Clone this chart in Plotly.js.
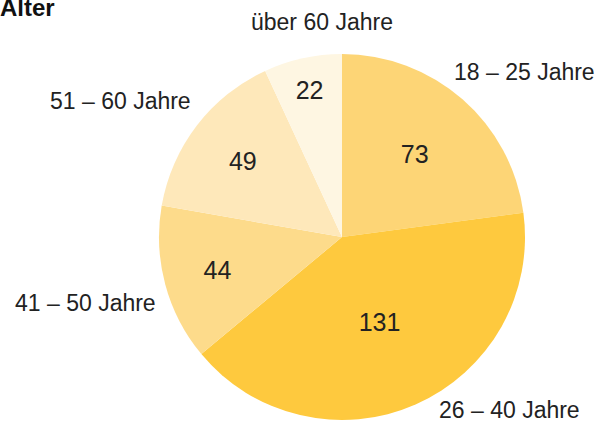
<!DOCTYPE html>
<html>
<head>
<meta charset="utf-8">
<script src="https://cdn.plot.ly/plotly-3.0.1.min.js"></script>
<style>html,body{margin:0;padding:0;background:#fff;}#chart{width:602px;height:423px;}</style>
</head>
<body>
<div id="chart"></div>
<script>
// Data
var categories = ["18 – 25 Jahre", "26 – 40 Jahre", "41 – 50 Jahre", "51 – 60 Jahre", "über 60 Jahre"];
var counts = [73, 131, 44, 49, 22];
var sliceColors = ["#FDD576", "#FEC93E", "#FDDB8B", "#FEE8BA", "#FEF6E2"];
var chartTitle = "Alter";

// Layout positions for the outside category labels (pixels in the 602x423 canvas)
var W = 602, H = 423;
var labelPos = [
  {x: 452, y: 72, anchor: "left"},
  {x: 437, y: 410, anchor: "left"},
  {x: 158, y: 303, anchor: "right"},
  {x: 193, y: 101, anchor: "right"},
  {x: 322, y: 22, anchor: "center"}
];

var FONT = "Liberation Sans, Arial, sans-serif";

var trace = {
  type: "pie",
  labels: categories,
  values: counts,
  sort: false,
  direction: "clockwise",
  rotation: 0,
  marker: {colors: sliceColors, line: {width: 0}},
  textinfo: "value",
  textposition: "inside",
  insidetextorientation: "horizontal",
  insidetextfont: {family: FONT, size: 25, color: "#222222"},
  hoverinfo: "label+value",
  showlegend: false,
  domain: {x: [159 / W, 525 / W], y: [3 / H, 369 / H]}
};

var annotations = categories.map(function (c, i) {
  var p = labelPos[i];
  return {
    text: c,
    xref: "paper", yref: "paper",
    x: p.x / W, y: 1 - p.y / H,
    xanchor: p.anchor, yanchor: "middle",
    showarrow: false,
    font: {family: FONT, size: 23, color: "#222222"}
  };
});

var layout = {
  width: W, height: H,
  margin: {l: 0, r: 0, t: 0, b: 0},
  paper_bgcolor: "#ffffff",
  showlegend: false,
  title: {
    text: "<b>" + chartTitle + "</b>",
    xref: "container", yref: "container",
    x: 0, xanchor: "left",
    y: 0.983, yanchor: "middle",
    pad: {l: 0, r: 0, t: 0, b: 0},
    font: {family: FONT, size: 24, color: "#111111"}
  },
  annotations: annotations
};

Plotly.newPlot("chart", [trace], layout, {displayModeBar: false, staticPlot: true});
</script>
</body>
</html>
